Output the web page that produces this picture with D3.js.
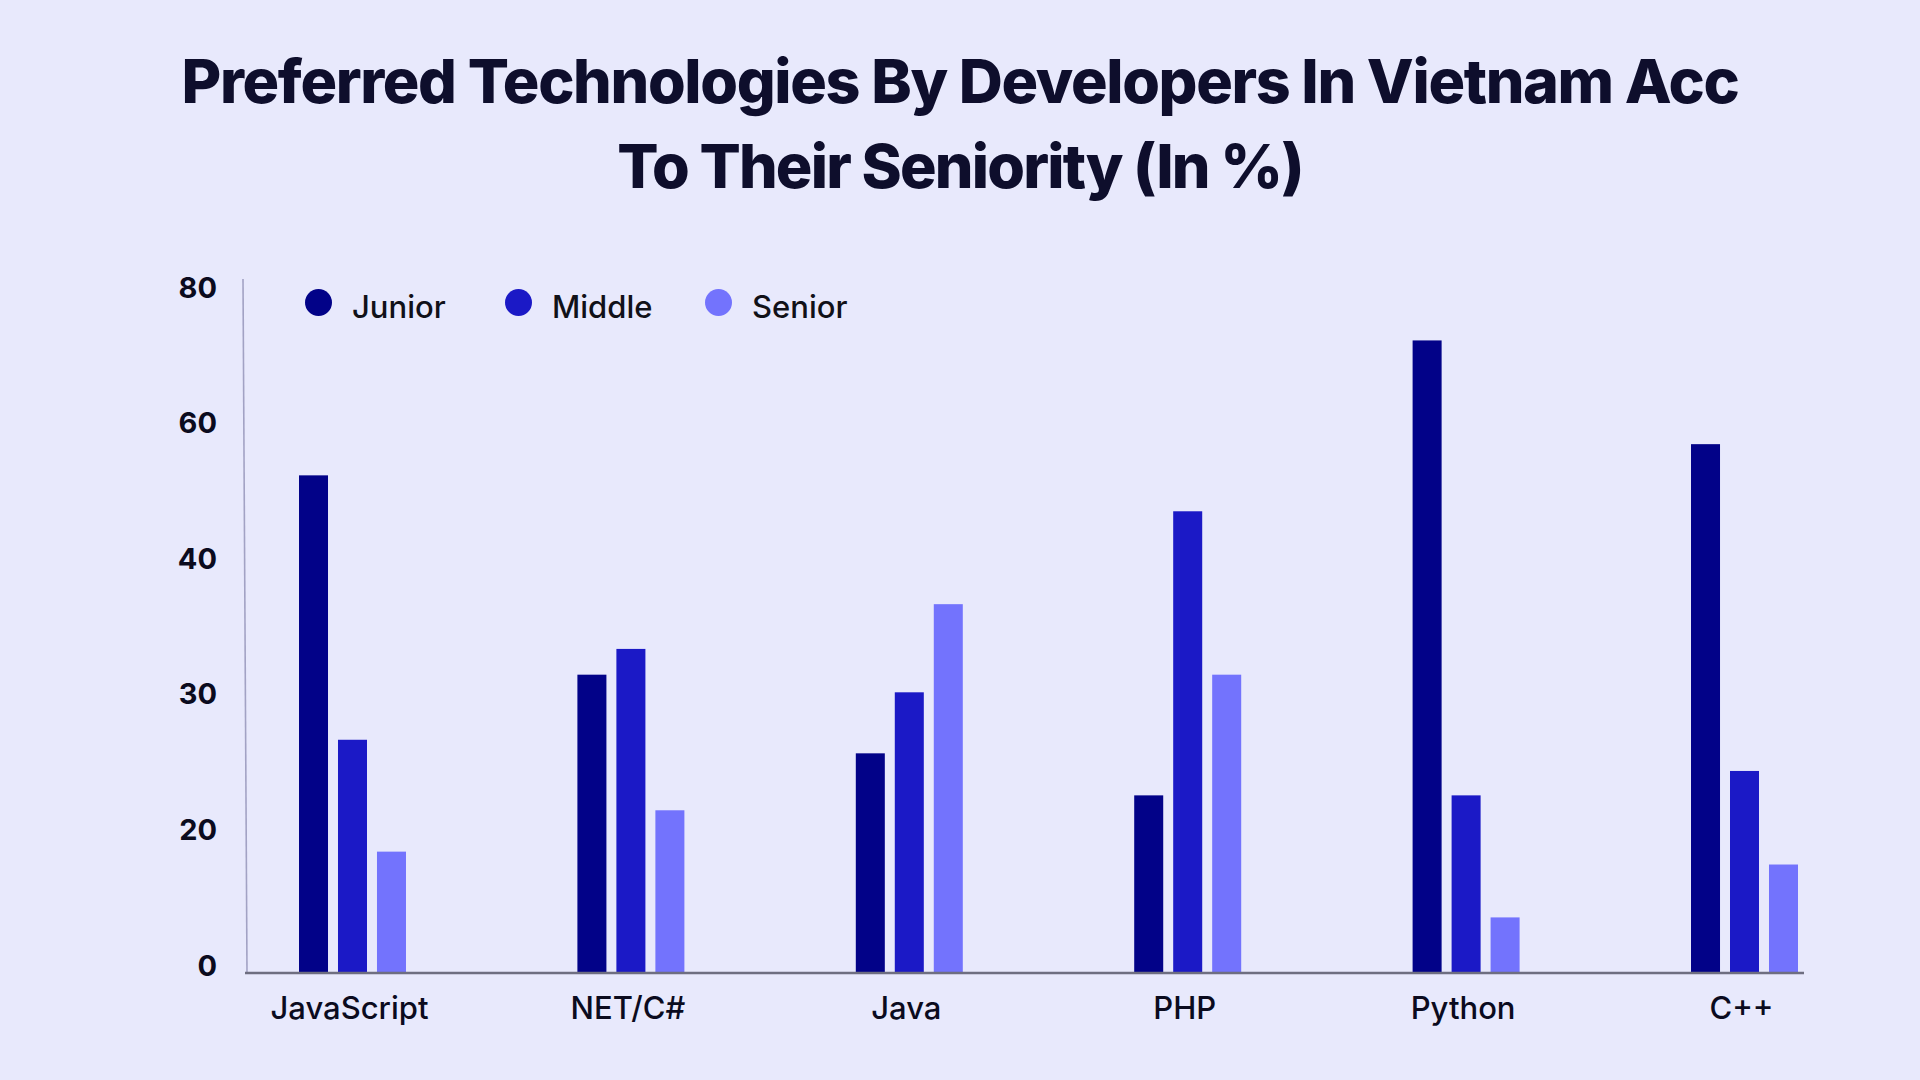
<!DOCTYPE html>
<html>
<head>
<meta charset="utf-8">
<script src="https://cdn.jsdelivr.net/npm/d3@7"></script>
<style>
  html, body { margin: 0; padding: 0; background: #e8e9fc; }
  svg { display: block; }
</style>
</head>
<body>
<svg id="chart" width="1920" height="1080"></svg>
<script>
const categories = ["JavaScript", "NET/C#", "Java", "PHP", "Python", "C++"];
const seriesNames = ["Junior", "Middle", "Senior"];
const junior = [53.4, 32.0, 26.2, 23.1, 73.3, 58.0];
const middle = [27.2, 33.9, 30.7, 48.1, 23.1, 24.9];
const senior = [17.9, 22.0, 37.2, 32.0, 8.2, 16.0];
const yTickLabels = [0, 20, 30, 40, 60, 80];
const titleLines = ["Preferred Technologies By Developers In Vietnam Acc", "To Their Seniority (In %)"];

const colors = { Junior: "#020288", Middle: "#1b19c6", Senior: "#7373fd" };
const seriesValues = { Junior: junior, Middle: middle, Senior: senior };

const svg = d3.select("#chart");
svg.append("rect").attr("width", 1920).attr("height", 1080).attr("fill", "#e8e9fc");

// Title
const titleWidths = [1558, 686];
const titleBaselines = [103, 188];
titleLines.forEach((line, i) => {
  const t = svg.append("text")
    .attr("x", 960).attr("y", titleBaselines[i])
    .attr("text-anchor", "middle")
    .attr("font-family", "Inter, 'DejaVu Sans', sans-serif")
    .attr("font-weight", 800)
    .attr("font-size", 61)
    .attr("fill", "#0e0e2c")
    .text(line);
  const L = t.node().getComputedTextLength();
  const ls = (titleWidths[i] - L) / (line.length - 1);
  t.attr("letter-spacing", ls.toFixed(2));
});

// Scales
const baseY = 973, stepY = 135.6;
const y = d3.scaleLinear()
  .domain(yTickLabels)
  .range(yTickLabels.map((d, i) => baseY - i * stepY));

const x0 = d3.scaleBand()
  .domain(categories)
  .range([299, 1798])
  .paddingInner(0.6157)
  .paddingOuter(0);

const x1 = d3.scaleBand()
  .domain(seriesNames)
  .range([0, x0.bandwidth()])
  .paddingInner(0.256)
  .paddingOuter(0);

// Y axis line (slightly slanted as in the reference)
svg.append("line")
  .attr("x1", 243).attr("y1", y(80) - 16)
  .attr("x2", 247).attr("y2", baseY)
  .attr("stroke", "#a2a2c4").attr("stroke-width", 1.6);

// Y tick labels
const yAxis = d3.axisLeft(y).tickValues(yTickLabels).tickSize(0).tickPadding(0);
const gy = svg.append("g").attr("transform", "translate(217,-8)").call(yAxis);
gy.select(".domain").remove();
gy.selectAll("text")
  .attr("font-family", "Inter, 'DejaVu Sans', sans-serif")
  .attr("font-weight", 700)
  .attr("font-size", 29)
  .attr("fill", "#0b0b1e")
  .attr("dy", "0.35em");

// Bars
const groups = svg.append("g").selectAll("g")
  .data(categories)
  .join("g")
  .attr("transform", d => `translate(${x0(d)},0)`);

groups.selectAll("rect")
  .data((d, i) => seriesNames.map(s => ({ s, v: seriesValues[s][i] })))
  .join("rect")
  .attr("x", d => x1(d.s))
  .attr("width", x1.bandwidth())
  .attr("y", d => y(d.v))
  .attr("height", d => baseY - y(d.v))
  .attr("fill", d => colors[d.s]);

// X axis baseline
svg.append("line")
  .attr("x1", 245).attr("y1", baseY)
  .attr("x2", 1804).attr("y2", baseY)
  .attr("stroke", "#6e6e80").attr("stroke-width", 2.5);

// X labels
const xAxis = d3.axisBottom(x0).tickSize(0).tickPadding(0);
const gx = svg.append("g").attr("transform", `translate(-3,1019)`).call(xAxis);
gx.select(".domain").remove();
gx.selectAll("text")
  .attr("font-family", "Inter, 'DejaVu Sans', sans-serif")
  .attr("font-weight", 500)
  .attr("font-size", 31)
  .attr("fill", "#0b0b1e")
  .attr("dy", 0);

// Legend
const legendX = d3.scalePoint().domain(seriesNames).range([318.5, 718.5]);
const lg = svg.append("g").selectAll("g").data(seriesNames).join("g")
  .attr("transform", d => `translate(${legendX(d)},302.5)`);
lg.append("circle").attr("r", 13.5).attr("fill", d => colors[d]);
lg.append("text")
  .attr("x", 33.5).attr("y", 15)
  .attr("font-family", "Inter, 'DejaVu Sans', sans-serif")
  .attr("font-weight", 500)
  .attr("font-size", 31)
  .attr("fill", "#111118")
  .text(d => d);
</script>
</body>
</html>
